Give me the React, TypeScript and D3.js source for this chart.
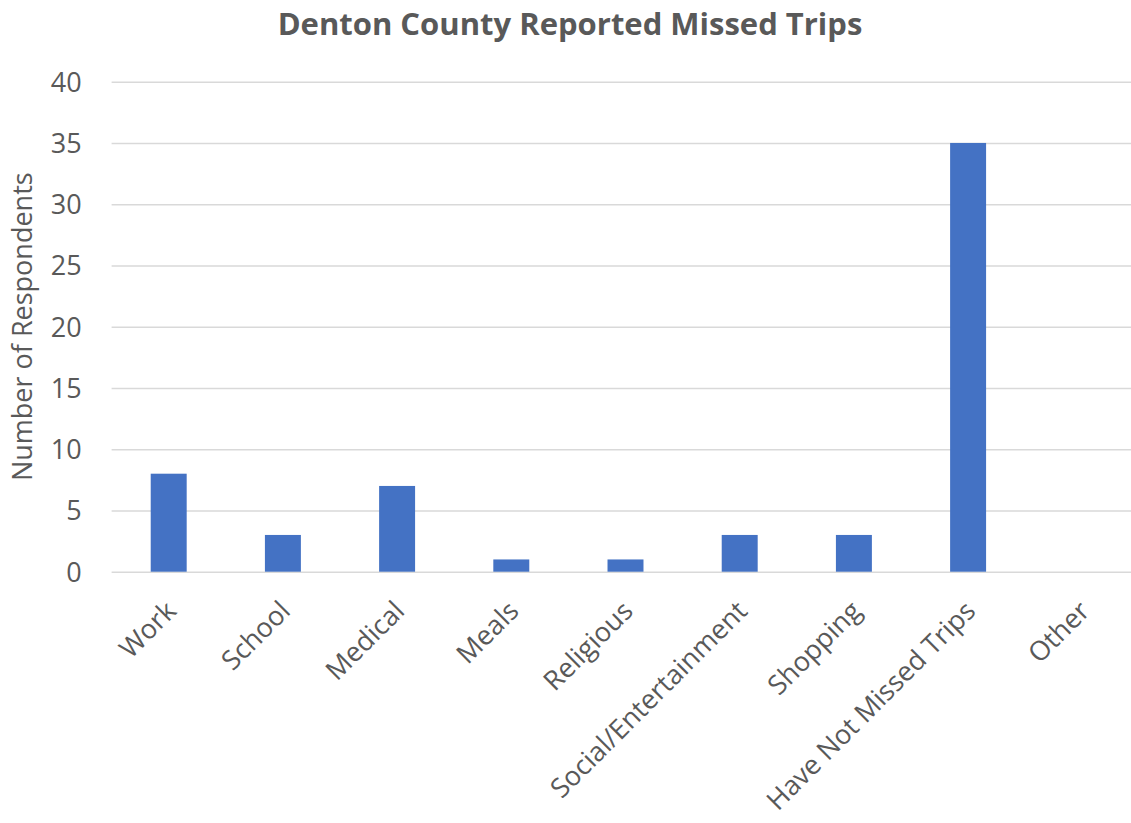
import React, { useRef, useEffect } from 'react';
import { select, scaleBand, scaleLinear, axisLeft, axisBottom } from 'd3';

const categories = [
  'Work',
  'School',
  'Medical',
  'Meals',
  'Religious',
  'Social/Entertainment',
  'Shopping',
  'Have Not Missed Trips',
  'Other',
];
const respondents = [8, 3, 7, 1, 1, 3, 3, 35, 0];
const yTicks = [0, 5, 10, 15, 20, 25, 30, 35, 40];

const dim = {
  width: 1131,
  height: 823,
  left: 111.6,
  right: 1139.4,
  top: 81.7,
  bottom: 571.7,
};

const font = '"Open Sans", "Noto Sans", sans-serif';
const textColor = '#595959';

const App = () => {
  const svgRef = useRef(null);

  useEffect(() => {
    const svg = select(svgRef.current);
    svg.selectAll('*').remove();

    const x = scaleBand<string>()
      .domain(categories)
      .range([dim.left, dim.right])
      .paddingInner(0.685)
      .paddingOuter(0.3425);

    const y = scaleLinear().domain([0, 40]).range([dim.bottom, dim.top]);

    // gridlines + y labels
    const yAxis = svg
      .append('g')
      .attr('transform', `translate(${dim.left},0)`)
      .call(
        axisLeft(y)
          .tickValues(yTicks)
          .tickSize(-(dim.right - dim.left))
          .tickPadding(30)
      );
    yAxis.select('.domain').remove();
    yAxis.selectAll('line').attr('stroke', '#d9d9d9').attr('stroke-width', 1.5);
    yAxis
      .selectAll('text')
      .attr('fill', textColor)
      .style('font-family', font)
      .style('font-size', '27px')
      .attr('dy', '0.35em');

    // bars
    svg
      .append('g')
      .selectAll('rect')
      .data(categories.map((c, i) => ({ c, v: respondents[i] })))
      .join('rect')
      .attr('x', (d) => x(d.c) as number)
      .attr('width', x.bandwidth())
      .attr('y', (d) => y(d.v))
      .attr('height', (d) => y(0) - y(d.v))
      .attr('fill', '#4472c4');

    // x labels
    const xAxis = svg
      .append('g')
      .attr('transform', `translate(0,${dim.bottom})`)
      .call(axisBottom(x).tickSize(0).tickPadding(0));
    xAxis.select('.domain').remove();
    xAxis
      .selectAll('text')
      .attr('fill', textColor)
      .style('font-family', font)
      .style('font-size', '27px')
      .attr('text-anchor', 'end')
      .attr('dy', 0)
      .attr('y', 0)
      .attr('transform', 'translate(9,41) rotate(-45)');

    // title
    svg
      .append('text')
      .attr('x', 570)
      .attr('y', 35)
      .attr('text-anchor', 'middle')
      .attr('fill', textColor)
      .style('font-family', font)
      .style('font-size', '31px')
      .style('font-weight', 'bold')
      .text('Denton County Reported Missed Trips');

    // y title
    svg
      .append('text')
      .attr('transform', `translate(32,${(dim.top + dim.bottom) / 2}) rotate(-90)`)
      .attr('text-anchor', 'middle')
      .attr('fill', textColor)
      .style('font-family', font)
      .style('font-size', '27px')
      .text('Number of Respondents');
  }, []);

  return (
    <svg
      ref={svgRef}
      width={dim.width}
      height={dim.height}
      style={{ position: 'absolute', left: 0, top: 0, background: '#fff' }}
    />
  );
};

export default App;
